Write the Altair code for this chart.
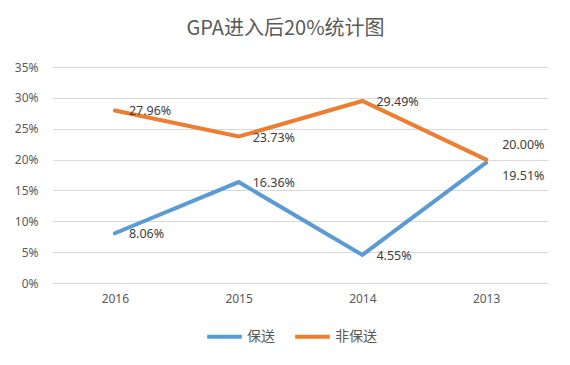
import altair as alt
import pandas as pd

years = ["2016", "2015", "2014", "2013"]
baosong = [8.06, 16.36, 4.55, 19.51]
fei_baosong = [27.96, 23.73, 29.49, 20.00]
series_names = ["保送", "非保送"]
colors = ["#5B9BD5", "#ED7D31"]
y_ticks = [0, 0.05, 0.10, 0.15, 0.20, 0.25, 0.30, 0.35]

rows = []
for y, v in zip(years, baosong):
    rows.append({"year": y, "series": series_names[0], "value": v / 100})
for y, v in zip(years, fei_baosong):
    rows.append({"year": y, "series": series_names[1], "value": v / 100})
df = pd.DataFrame(rows)

text_color = "#595959"
font = "Noto Sans CJK SC"

x = alt.X("year:N", sort=years, title=None,
          scale=alt.Scale(paddingOuter=0.5, paddingInner=0),
          axis=alt.Axis(labelAngle=0, domain=False, ticks=False, grid=False,
                        labelPadding=10, labelColor=text_color, labelFontSize=12,
                        labelFont="Noto Sans"))
y = alt.Y("value:Q", title=None,
          scale=alt.Scale(domain=[0, 0.35], nice=False),
          axis=alt.Axis(format=".0%", values=y_ticks, labelOverlap=False,
                        domain=False, ticks=False, gridColor="#D9D9D9", gridWidth=1,
                        labelPadding=15, labelColor=text_color, labelFontSize=12,
                        labelFont="Noto Sans"))
color = alt.Color("series:N", scale=alt.Scale(domain=series_names, range=colors),
                  legend=alt.Legend(title=None, orient="none", direction="horizontal",
                                    legendX=152, legendY=250, symbolType="stroke",
                                    symbolStrokeWidth=4, symbolSize=1200,
                                    labelFontSize=14, labelColor=text_color,
                                    labelFont=font, labelOffset=3, columnPadding=12))

base = alt.Chart(df)
lines = base.mark_line(strokeWidth=4, strokeCap="round").encode(x=x, y=y, color=color)

label_enc = dict(x=x, y=y, text=alt.Text("value:Q", format=".2%"))
text_props = dict(fontSize=12.5, font="Noto Sans", color="#404040", baseline="middle", align="left")

labels_main = base.transform_filter(alt.datum.year != "2013").mark_text(dx=14, dy=1, **text_props).encode(**label_enc)
labels_top = base.transform_filter((alt.datum.year == "2013") & (alt.datum.series == series_names[1])).mark_text(dx=16, dy=-15, **text_props).encode(**label_enc)
labels_bot = base.transform_filter((alt.datum.year == "2013") & (alt.datum.series == series_names[0])).mark_text(dx=16, dy=13, **text_props).encode(**label_enc)

chart = alt.layer(lines, labels_main, labels_top, labels_bot).properties(
    width=495, height=216,
    autosize=alt.AutoSizeParams(type="none"),
    padding={"left": 45, "top": 59, "right": 14, "bottom": 74},
    title=alt.TitleParams("GPA进入后20%统计图", font=font, fontSize=20, fontWeight="normal",
                          color=text_color, anchor="middle", dx=-15, offset=22),
    background="white",
).configure_view(stroke=None)

chart.save("out.html", embed_options={"renderer": "svg", "actions": False})
